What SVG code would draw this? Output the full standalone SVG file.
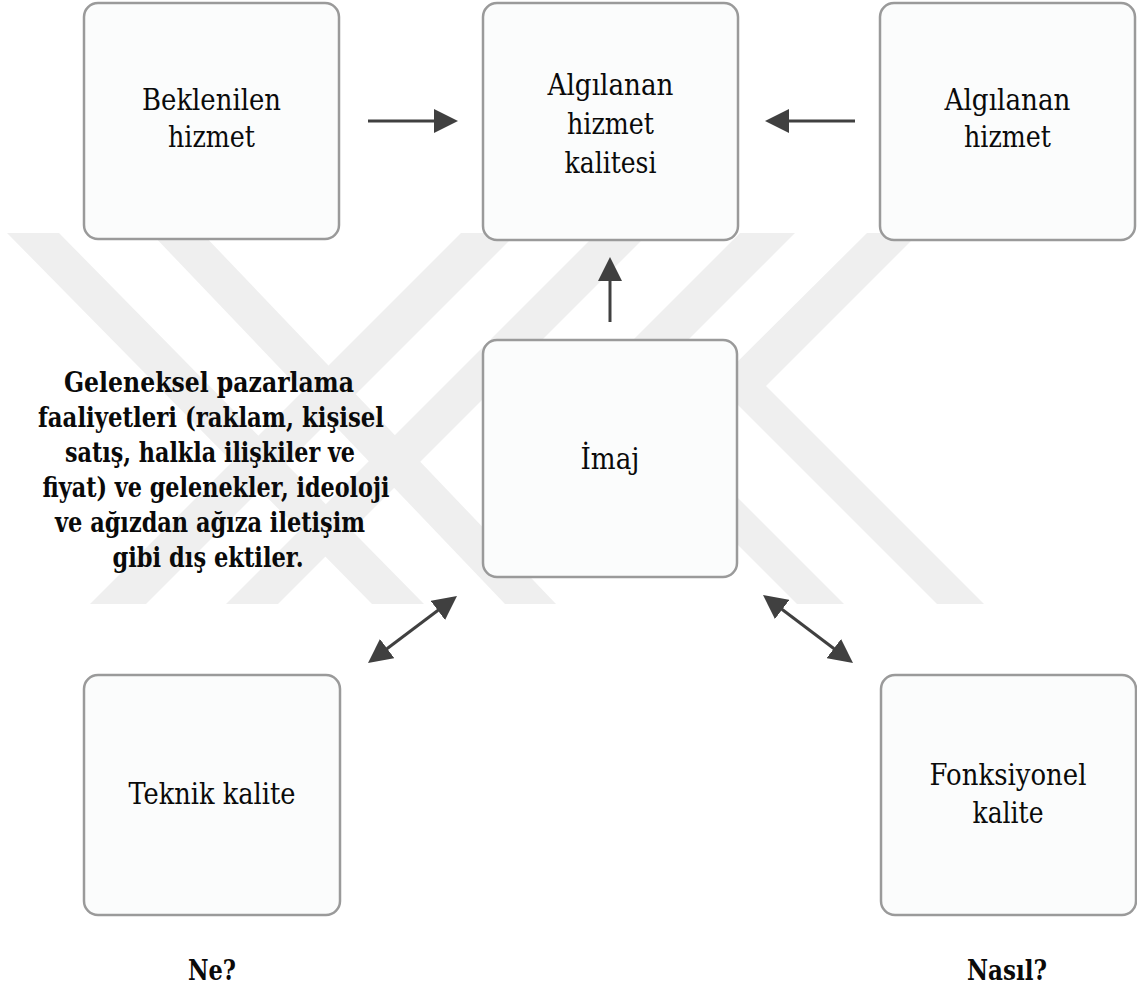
<svg xmlns="http://www.w3.org/2000/svg" width="1137" height="988" viewBox="0 0 1137 988">
  <style>
    .box { fill: #fbfcfc; stroke: #9a9a9a; stroke-width: 2.5; }
    text { font-family: "DejaVu Serif", "Liberation Serif", serif; fill: #0a0a0a; text-anchor: middle; }
    .lbl { font-size: 29px; }
    .note { font-size: 28px; font-weight: bold; }
    .cap { font-size: 27px; font-weight: bold; }
    .wm { fill: #efefef; }
    .con { stroke: #404040; stroke-width: 3; fill: none; }
  </style>
  <defs>
    <marker id="head" viewBox="0 0 24 24" markerUnits="userSpaceOnUse" markerWidth="24" markerHeight="24" refX="19" refY="12" orient="auto-start-reverse">
      <path d="M0,0 L24,12 L0,24 Z" fill="#404040"/>
    </marker>
  </defs>

  <rect width="1137" height="988" fill="#ffffff"/>

  <!-- background watermark bands -->
  <g id="watermark">
    <polygon class="wm" points="7,233 59,233 424,604 372,604"/>
    <polygon class="wm" points="151,233 202,233 556,604 505,604"/>
    <polygon class="wm" points="461,233 517,233 146,604 90,604"/>
    <polygon class="wm" points="597,233 649,233 278,604 226,604"/>
    <polygon class="wm" points="740,233 795,233 634,394 844,604 797,604 583,390"/>
    <polygon class="wm" points="867,233 919,233 766,386 984,604 937,604 716,383"/>
  </g>

  <!-- connectors -->
  <g id="connectors">
    <line class="con" x1="368" y1="121" x2="453" y2="121" marker-end="url(#head)"/>
    <line class="con" x1="855" y1="121" x2="770" y2="121" marker-end="url(#head)"/>
    <line class="con" x1="610" y1="322" x2="610" y2="262" marker-end="url(#head)"/>
    <line class="con" x1="372" y1="660" x2="453" y2="599" marker-start="url(#head)" marker-end="url(#head)"/>
    <line class="con" x1="767" y1="598" x2="849" y2="660" marker-start="url(#head)" marker-end="url(#head)"/>
  </g>

  <g id="beklenilen">
    <rect class="box" x="84" y="3" width="255" height="236" rx="14"/>
    <text class="lbl" x="211.5" y="110" textLength="139" lengthAdjust="spacingAndGlyphs">Beklenilen</text>
    <text class="lbl" x="211.5" y="147" textLength="87" lengthAdjust="spacingAndGlyphs">hizmet</text>
  </g>

  <g id="algilanan-kalite">
    <rect class="box" x="483" y="3" width="255" height="237" rx="14"/>
    <text class="lbl" x="610.5" y="95" textLength="126" lengthAdjust="spacingAndGlyphs">Algılanan</text>
    <text class="lbl" x="610.5" y="134" textLength="87" lengthAdjust="spacingAndGlyphs">hizmet</text>
    <text class="lbl" x="610.5" y="173" textLength="92" lengthAdjust="spacingAndGlyphs">kalitesi</text>
  </g>

  <g id="algilanan-hizmet">
    <rect class="box" x="880" y="3" width="255" height="237" rx="14"/>
    <text class="lbl" x="1007.5" y="110" textLength="126" lengthAdjust="spacingAndGlyphs">Algılanan</text>
    <text class="lbl" x="1007.5" y="147" textLength="87" lengthAdjust="spacingAndGlyphs">hizmet</text>
  </g>

  <g id="imaj">
    <rect class="box" x="483" y="340" width="254" height="237" rx="14"/>
    <text class="lbl" x="610" y="469" textLength="59" lengthAdjust="spacingAndGlyphs">İmaj</text>
  </g>

  <g id="dis-etkiler">
    <text class="note" x="209" y="392" textLength="290" lengthAdjust="spacingAndGlyphs">Geleneksel pazarlama</text>
    <text class="note" x="211" y="427" textLength="346" lengthAdjust="spacingAndGlyphs">faaliyetleri (raklam, kişisel</text>
    <text class="note" x="210" y="462" textLength="290" lengthAdjust="spacingAndGlyphs">satış, halkla ilişkiler ve</text>
    <text class="note" x="216" y="497" textLength="347" lengthAdjust="spacingAndGlyphs">fiyat) ve gelenekler, ideoloji</text>
    <text class="note" x="210" y="532" textLength="310" lengthAdjust="spacingAndGlyphs">ve ağızdan ağıza iletişim</text>
    <text class="note" x="208" y="567" textLength="191" lengthAdjust="spacingAndGlyphs">gibi dış ektiler.</text>
  </g>

  <g id="teknik">
    <rect class="box" x="84" y="675" width="256" height="240" rx="14"/>
    <text class="lbl" x="212" y="804" textLength="167" lengthAdjust="spacingAndGlyphs">Teknik kalite</text>
    <text class="cap" x="212" y="980" textLength="48" lengthAdjust="spacingAndGlyphs">Ne?</text>
  </g>

  <g id="fonksiyonel">
    <rect class="box" x="881" y="675" width="255" height="240" rx="14"/>
    <text class="lbl" x="1008" y="785" textLength="157" lengthAdjust="spacingAndGlyphs">Fonksiyonel</text>
    <text class="lbl" x="1008" y="823" textLength="71" lengthAdjust="spacingAndGlyphs">kalite</text>
    <text class="cap" x="1007" y="980" textLength="80" lengthAdjust="spacingAndGlyphs">Nasıl?</text>
  </g>
</svg>
